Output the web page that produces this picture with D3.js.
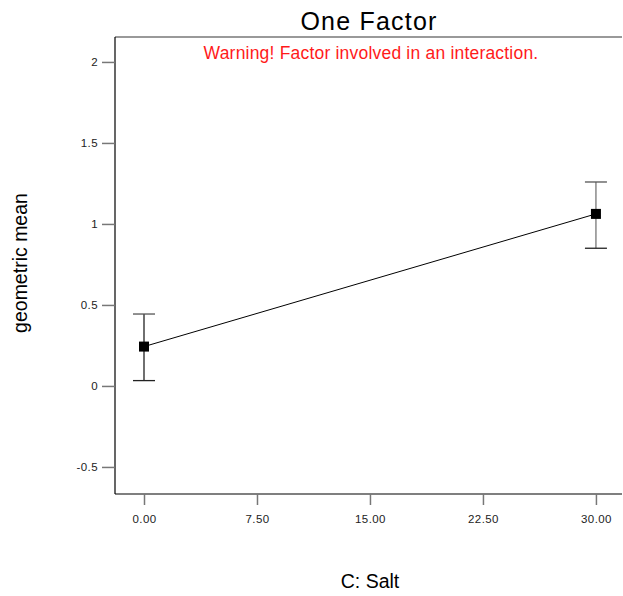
<!DOCTYPE html>
<html>
<head>
<meta charset="utf-8">
<script src="https://cdn.jsdelivr.net/npm/d3@7"></script>
<style>
  body { margin: 0; background: #fff; }
  svg { display: block; font-family: "Liberation Sans", Arial, sans-serif; }
</style>
</head>
<body>
<svg id="chart" width="623" height="596"></svg>
<script>
const salt = [0, 30];
const meanVals = [0.243, 1.062];
const upperVals = [0.444, 1.259];
const lowerVals = [0.033, 0.850];
const xTicks = [0, 7.5, 15, 22.5, 30];
const yTicks = [-0.5, 0, 0.5, 1, 1.5, 2];

const svg = d3.select("#chart");
const plotL = 115, plotT = 37, plotR = 622, plotB = 494;

const x = d3.scaleLinear().domain([-1.925, 31.73]).range([plotL, plotR]);
const y = d3.scaleLinear().domain([-0.667, 2.154]).range([plotB, plotT]);

// frame
svg.append("line").attr("x1", plotL).attr("x2", plotR).attr("y1", plotT).attr("y2", plotT)
  .attr("stroke", "#777").attr("stroke-width", 1.5);
svg.append("line").attr("x1", plotL).attr("x2", plotL).attr("y1", plotT).attr("y2", plotB)
  .attr("stroke", "#000").attr("stroke-width", 1.2);
svg.append("line").attr("x1", plotL).attr("x2", plotR).attr("y1", plotB).attr("y2", plotB)
  .attr("stroke", "#000").attr("stroke-width", 1.2);

// axes
const yAxis = svg.append("g").attr("transform", `translate(${plotL},0)`)
  .call(d3.axisLeft(y).tickValues(yTicks).tickSize(13).tickPadding(4)
    .tickFormat(d => String(d)));
const xAxis = svg.append("g").attr("transform", `translate(0,${plotB})`)
  .call(d3.axisBottom(x).tickValues(xTicks).tickSize(11).tickPadding(10)
    .tickFormat(d => d.toFixed(2)));
[yAxis, xAxis].forEach(a => {
  a.select(".domain").remove();
  a.selectAll(".tick line").attr("stroke", "#777").attr("stroke-width", 1.5);
  a.selectAll(".tick text").attr("fill", "#222").style("font-size", "11.5px")
    .style("letter-spacing", "0.4px")
    .style("font-family", "'Liberation Sans', Arial, sans-serif");
});

// line
const pts = salt.map((s, i) => ({s, m: meanVals[i], u: upperVals[i], l: lowerVals[i]}));
svg.append("path").datum(pts)
  .attr("d", d3.line().x(d => x(d.s)).y(d => y(d.m)))
  .attr("fill", "none").attr("stroke", "#000").attr("stroke-width", 1);

// error bars
const eb = svg.append("g").selectAll("g").data(pts).join("g");
eb.append("line").attr("x1", d => x(d.s)).attr("x2", d => x(d.s))
  .attr("y1", d => y(d.u)).attr("y2", d => y(d.l))
  .attr("stroke", (d, i) => i ? "#777" : "#222").attr("stroke-width", 1.3);
eb.append("line").attr("x1", d => x(d.s) - 11).attr("x2", d => x(d.s) + 11)
  .attr("y1", d => y(d.u)).attr("y2", d => y(d.u))
  .attr("stroke", "#555").attr("stroke-width", 1.3);
eb.append("line").attr("x1", d => x(d.s) - 11).attr("x2", d => x(d.s) + 11)
  .attr("y1", d => y(d.l)).attr("y2", d => y(d.l))
  .attr("stroke", "#222").attr("stroke-width", 1.3);
eb.append("rect").attr("x", d => x(d.s) - 5).attr("y", d => y(d.m) - 5)
  .attr("width", 10).attr("height", 10).attr("fill", "#000");

// texts
svg.append("text").attr("x", 369).attr("y", 30).attr("text-anchor", "middle")
  .style("font-size", "25px").style("letter-spacing", "1.2px")
  .attr("fill", "#000").text("One Factor");
svg.append("text").attr("x", 371).attr("y", 59).attr("text-anchor", "middle")
  .style("font-size", "17.5px").style("letter-spacing", "0.2px")
  .attr("fill", "#ff1a1a").text("Warning! Factor involved in an interaction.");
svg.append("text").attr("x", 370).attr("y", 588).attr("text-anchor", "middle")
  .style("font-size", "19.5px").attr("fill", "#000").text("C: Salt");
svg.append("text").attr("transform", "translate(27,263) rotate(-90)").attr("text-anchor", "middle")
  .style("font-size", "19.5px").attr("fill", "#000").text("geometric mean");
</script>
</body>
</html>
